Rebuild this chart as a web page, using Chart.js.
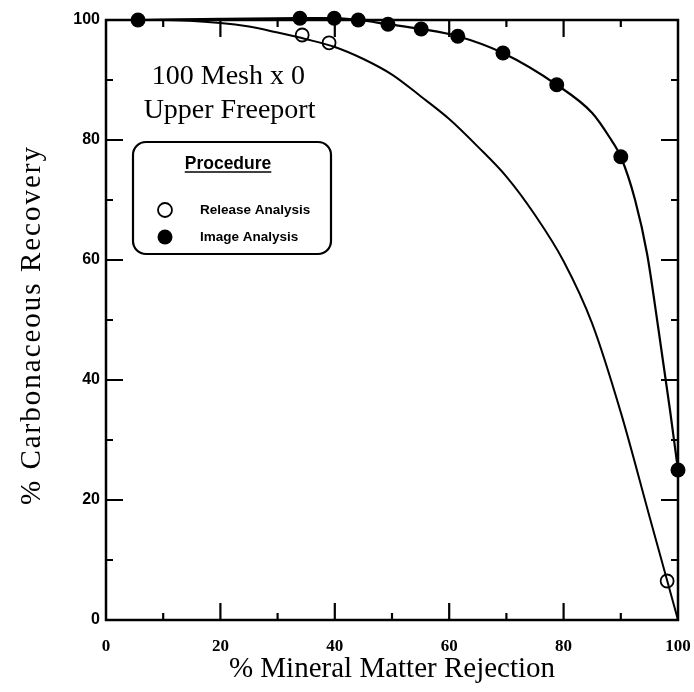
<!DOCTYPE html>
<html><head><meta charset="utf-8">
<script src="https://cdn.jsdelivr.net/npm/chart.js@4/dist/chart.umd.min.js"></script>
<style>html,body{margin:0;padding:0;background:#fff;}#wrap{width:694px;height:692px;}</style>
</head><body><div id="wrap"><canvas id="c" width="694" height="692"></canvas></div>
<script>
// ---- data ----
const releaseX = [34.3, 39.0, 98.1];
const releaseY = [97.5, 96.2, 6.5];
const imageX = [5.6, 33.9, 39.9, 44.1, 49.3, 55.1, 61.5, 69.4, 78.8, 90.0, 100];
const imageY = [100, 100.3, 100.3, 100, 99.3, 98.5, 97.3, 94.5, 89.2, 77.2, 25];
const releaseCurveX = [0, 10, 20, 25, 30, 35, 40, 45, 50, 55, 60, 65, 70, 75, 80, 85, 90, 95, 100];
const releaseCurveY = [100, 100, 99.5, 98.9, 97.9, 96.8, 95.5, 93.5, 90.9, 87.3, 83.5, 78.9, 73.9, 67.5, 59.8, 49.4, 34.6, 17.3, 0];
const imageCurveX = [5.6, 20, 33.9, 39.9, 44.1, 49.3, 55.1, 61.5, 69.4, 78.8, 85, 88, 90, 92.5, 94.6, 96.5, 98.6, 100];
const imageCurveY = [100, 100.2, 100.3, 100.3, 100, 99.3, 98.5, 97.3, 94.5, 89.2, 84.5, 80.5, 77.2, 70, 61, 49, 35, 25];
const tickValues = [0, 10, 20, 30, 40, 50, 60, 70, 80, 90, 100];
const xTitle = '% Mineral Matter Rejection';
const yTitle = '% Carbonaceous Recovery';
const noteLines = ['100 Mesh x 0', 'Upper Freeport'];
const legendTitle = 'Procedure';
const seriesNames = ['Release Analysis', 'Image Analysis'];

const zip = (xs, ys) => xs.map((v, i) => ({x: v, y: ys[i]}));

const framePlugin = {
  id: 'frame',
  beforeDatasetsDraw(chart) {
    const {ctx, chartArea: a, scales: {x, y}} = chart;
    ctx.save();
    ctx.strokeStyle = '#000';
    ctx.lineWidth = 2.5;
    ctx.strokeRect(a.left, a.top, a.right - a.left, a.bottom - a.top);
    ctx.lineWidth = 2.2;
    ctx.beginPath();
    tickValues.forEach(v => {
      const len = v % 20 === 0 ? 17 : 7;
      if (v === 0 || v === 100) return;
      const px = x.getPixelForValue(v);
      ctx.moveTo(px, a.bottom); ctx.lineTo(px, a.bottom - len);
      ctx.moveTo(px, a.top); ctx.lineTo(px, a.top + len);
      const py = y.getPixelForValue(v);
      ctx.moveTo(a.left, py); ctx.lineTo(a.left + len, py);
      ctx.moveTo(a.right, py); ctx.lineTo(a.right - len, py);
    });
    ctx.stroke();
    ctx.restore();
  },
  afterDraw(chart) {
    const {ctx, chartArea: a, scales: {x, y}} = chart;
    ctx.save();
    ctx.fillStyle = '#000';
    ctx.textAlign = 'center';
    ctx.textBaseline = 'middle';
    // y axis title (drawn with letter spacing to match the reference width)
    ctx.save();
    ctx.translate(32, (a.top + a.bottom) / 2 + 5);
    ctx.rotate(-Math.PI / 2);
    ctx.font = '29px "Liberation Serif"';
    if ('letterSpacing' in ctx) ctx.letterSpacing = '2px';
    ctx.fillText(yTitle, 0, 0);
    ctx.restore();
    ctx.font = '28px "Liberation Serif"';
    ctx.fillText(noteLines[0], x.getPixelForValue(21.4), y.getPixelForValue(90.5));
    ctx.fillText(noteLines[1], x.getPixelForValue(21.6), y.getPixelForValue(84.9));
    // legend box
    const L = 133, T = 142, R = 331, B = 254, r = 13;
    ctx.lineWidth = 2.2;
    ctx.beginPath();
    ctx.moveTo(L + r, T); ctx.lineTo(R - r, T); ctx.arcTo(R, T, R, T + r, r);
    ctx.lineTo(R, B - r); ctx.arcTo(R, B, R - r, B, r);
    ctx.lineTo(L + r, B); ctx.arcTo(L, B, L, B - r, r);
    ctx.lineTo(L, T + r); ctx.arcTo(L, T, L + r, T, r);
    ctx.closePath(); ctx.stroke();
    ctx.font = 'bold 17.5px "Liberation Sans"';
    ctx.fillText(legendTitle, 228, 164);
    const w = ctx.measureText(legendTitle).width;
    ctx.lineWidth = 1.5;
    ctx.beginPath(); ctx.moveTo(228 - w / 2, 172); ctx.lineTo(228 + w / 2, 172); ctx.stroke();
    // symbols
    ctx.lineWidth = 1.8;
    ctx.beginPath(); ctx.arc(165, 210, 7, 0, Math.PI * 2); ctx.fillStyle = '#fff'; ctx.fill(); ctx.stroke();
    ctx.fillStyle = '#000';
    ctx.beginPath(); ctx.arc(165, 237, 7.5, 0, Math.PI * 2); ctx.fill();
    ctx.textAlign = 'left';
    ctx.font = 'bold 13.5px "Liberation Sans"';
    ctx.fillText(seriesNames[0], 200, 210);
    ctx.fillText(seriesNames[1], 200, 237);
    ctx.restore();
  }
};

new Chart(document.getElementById('c'), {
  type: 'scatter',
  data: {
    datasets: [
      {label: 'Release curve', data: zip(releaseCurveX, releaseCurveY), showLine: true, borderColor: '#000', borderWidth: 2, pointRadius: 0, cubicInterpolationMode: 'monotone', clip: false, order: 3},
      {label: 'Image curve', data: zip(imageCurveX, imageCurveY), showLine: true, borderColor: '#000', borderWidth: 2.2, pointRadius: 0, cubicInterpolationMode: 'monotone', clip: false, order: 2},
      {label: seriesNames[0], data: zip(releaseX, releaseY), showLine: false, pointRadius: 6.5, pointBackgroundColor: 'rgba(255,255,255,0)', pointBorderColor: '#000', pointBorderWidth: 1.8, clip: false, order: 1},
      {label: seriesNames[1], data: zip(imageX, imageY), showLine: false, pointRadius: 7.5, pointBackgroundColor: '#000', pointBorderColor: '#000', pointBorderWidth: 0, clip: false, order: 0}
    ]
  },
  options: {
    responsive: false,
    devicePixelRatio: 1,
    animation: false,
    layout: {padding: {top: 20, right: 16, left: 0, bottom: 0}},
    plugins: {legend: {display: false}, tooltip: {enabled: false}},
    scales: {
      x: {
        type: 'linear', min: 0, max: 100,
        ticks: {stepSize: 20, color: '#000', font: {family: '"Liberation Serif"', weight: 'bold', size: 17}, padding: 16, maxRotation: 0},
        grid: {display: false, drawTicks: false},
        border: {display: false},
        title: {display: true, text: xTitle, color: '#000', font: {family: '"Liberation Serif"', size: 29}, padding: {top: 0, bottom: 5}},
        afterFit(s) { s.height = 72; s.paddingLeft = 0; s.paddingRight = 0; }
      },
      y: {
        type: 'linear', min: 0, max: 100,
        ticks: {stepSize: 20, color: '#000', font: {family: '"Liberation Sans"', weight: 'bold', size: 16}, padding: 6},
        grid: {display: false, drawTicks: false},
        border: {display: false},
        title: {display: false, text: yTitle},
        afterFit(s) { s.width = 106; s.paddingTop = 0; s.paddingBottom = 0; }
      }
    }
  },
  plugins: [framePlugin]
});
</script>
</body></html>
